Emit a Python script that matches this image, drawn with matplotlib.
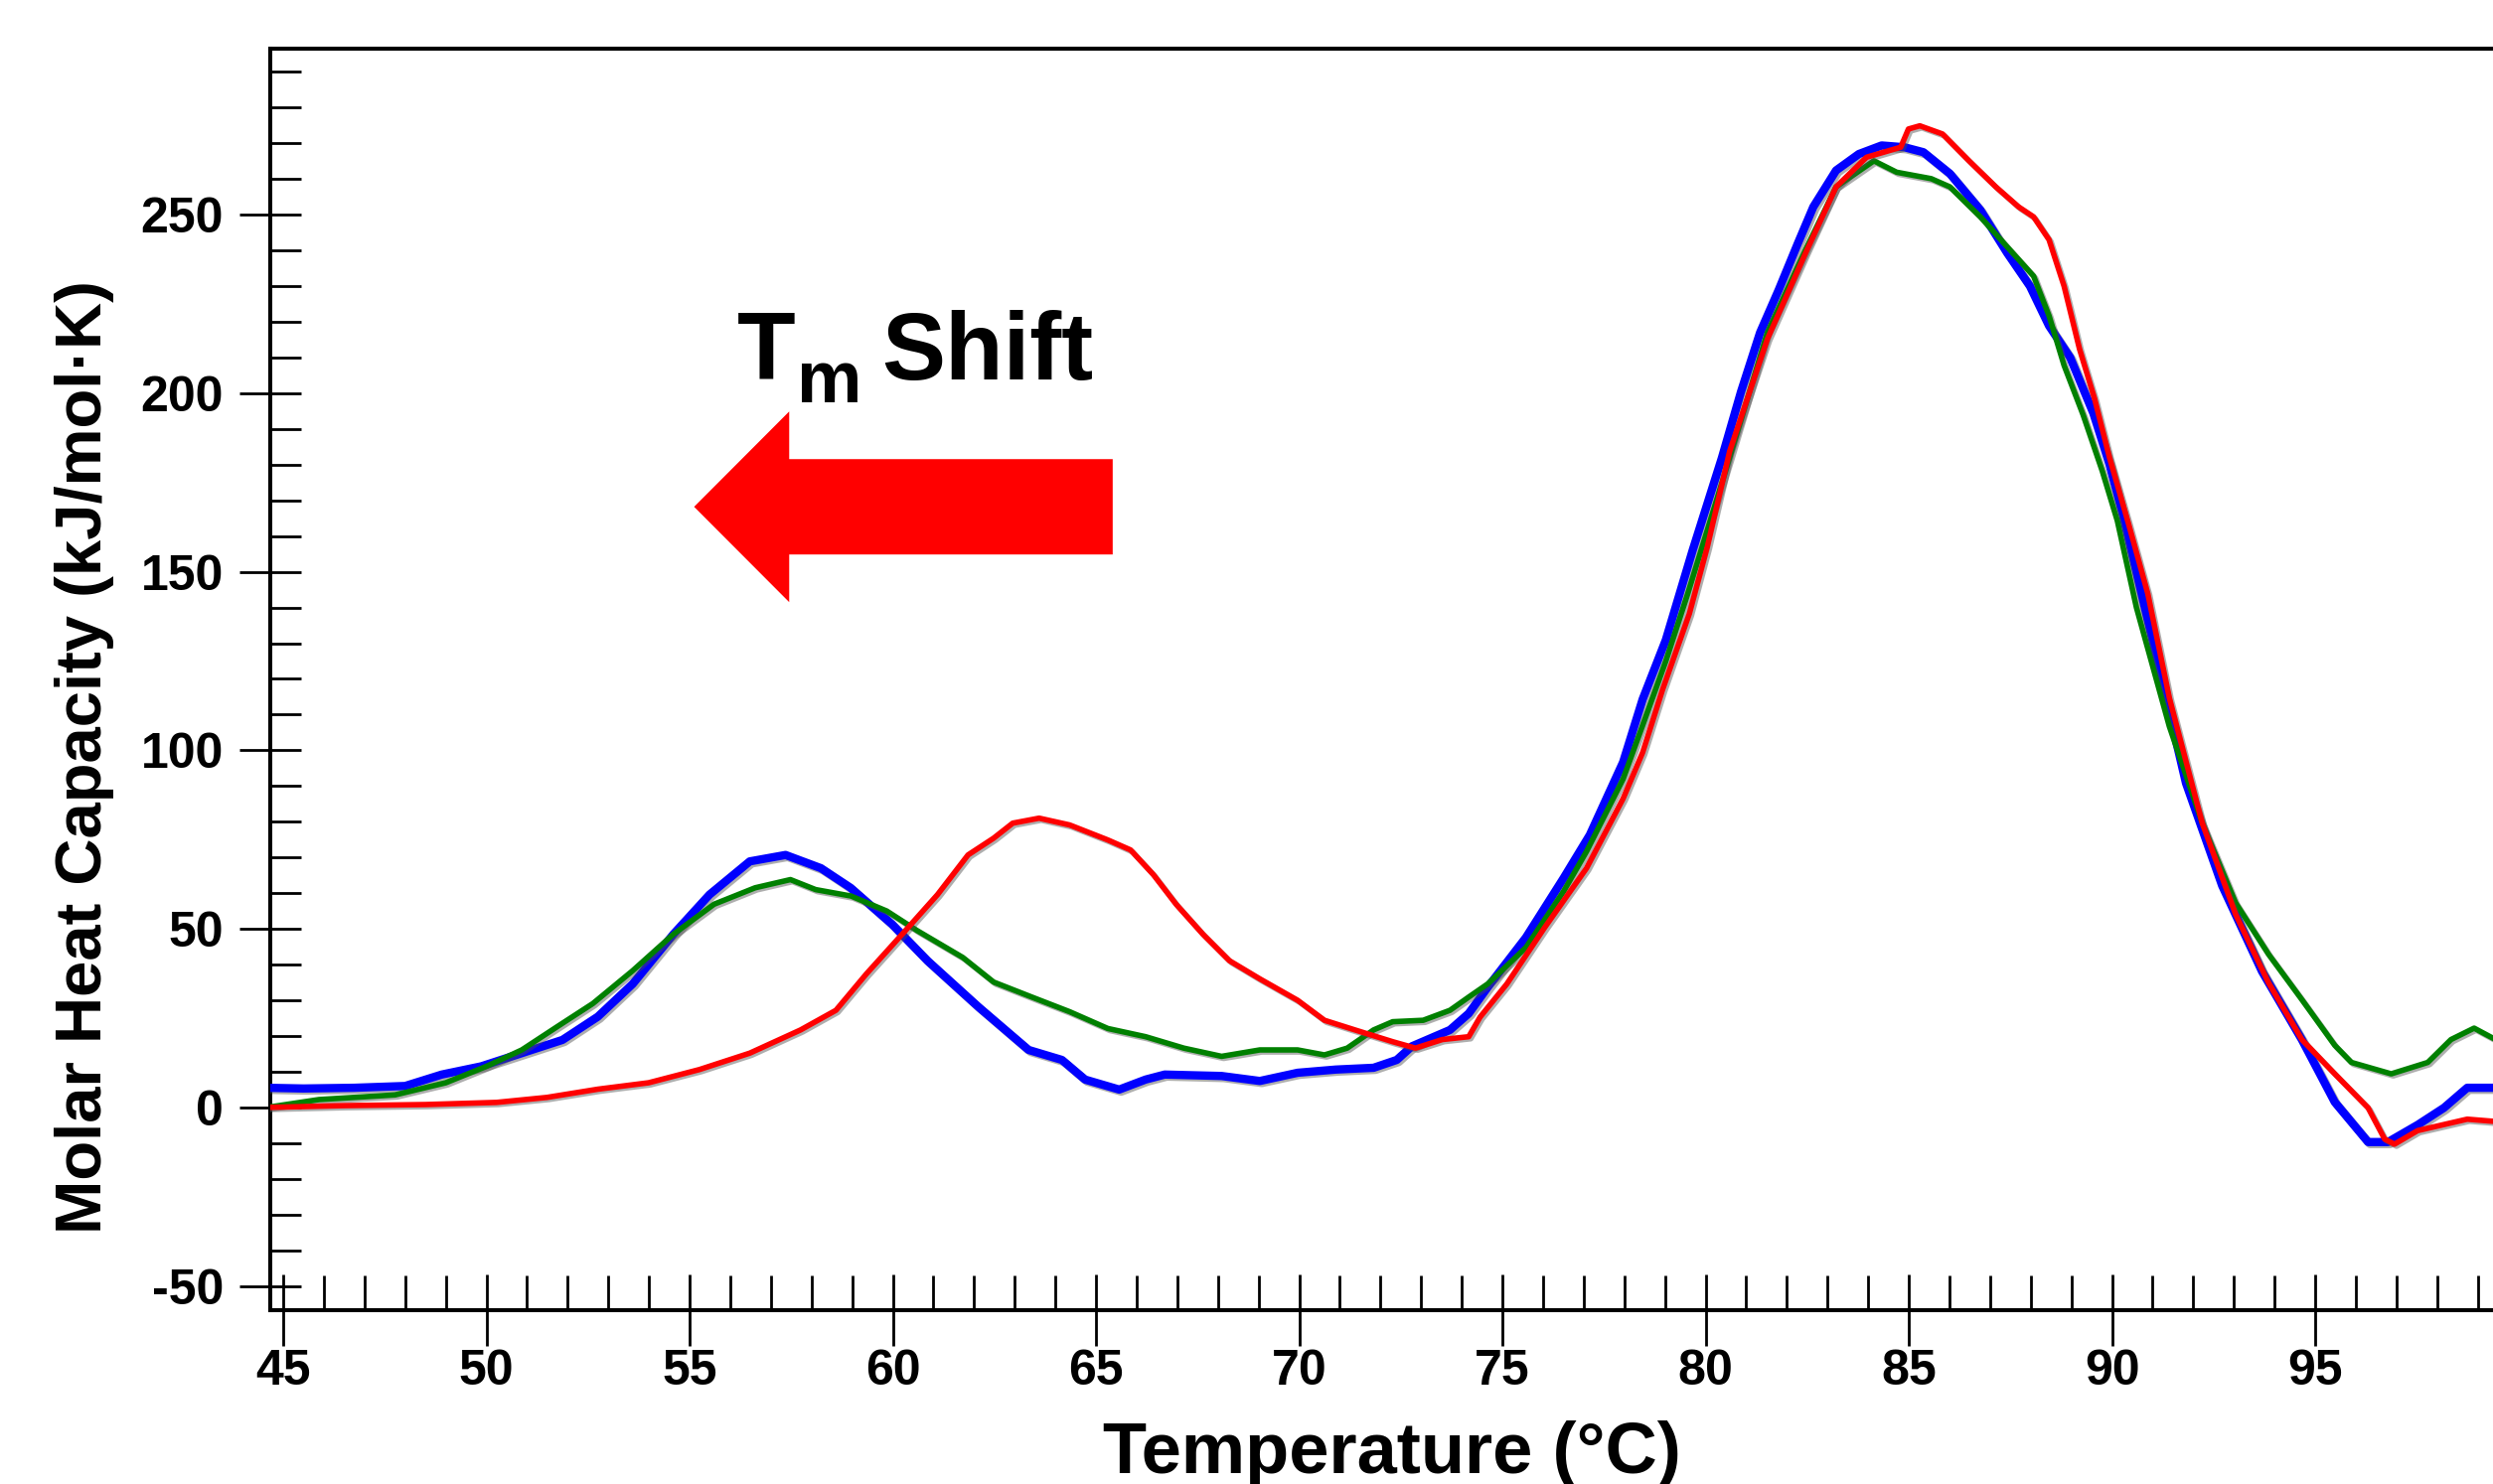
import matplotlib
matplotlib.use('Agg')
import matplotlib.pyplot as plt
import matplotlib.patheffects as pe
from matplotlib.patches import FancyArrow
from matplotlib.ticker import MultipleLocator, FixedLocator

plt.rcParams['font.family'] = ['Liberation Sans', 'DejaVu Sans']
plt.rcParams['font.weight'] = 'bold'
plt.rcParams['axes.unicode_minus'] = False

# temperature (C) / molar heat capacity (kJ/mol.K)
blue_t = [44.6, 45.5, 46.75, 48.0, 48.9, 49.87, 50.87, 51.87, 52.74, 53.6, 54.6, 55.49,
          56.48, 57.36, 58.23, 58.96, 59.98, 60.85, 62.1, 63.34, 64.16, 64.73, 65.57,
          66.22, 66.69, 68.09, 69.03, 69.96, 70.9, 71.83, 72.4, 72.77, 73.71, 74.17,
          74.64, 75.58, 76.51, 77.15, 77.97, 78.45, 79.02, 79.68, 80.4, 80.87, 81.34,
          81.8, 82.27, 82.65, 83.21, 83.77, 84.33, 84.89, 85.36, 86.01, 86.76, 87.42,
          87.98, 88.45, 88.97, 89.54, 89.94, 90.27, 91.0, 91.82, 92.71, 93.69, 94.67,
          95.48, 96.3, 96.79, 97.52, 98.17, 98.74, 99.6]
blue_cp = [5.5, 5.3, 5.5, 6.0, 9.2, 11.5, 15.2, 18.9, 25.4, 34.6, 48.5, 59.6,
           68.9, 70.7, 67.0, 61.5, 51.3, 41.1, 28.2, 16.1, 13.3, 7.8, 5.0,
           7.8, 9.2, 8.8, 7.4, 9.7, 10.6, 11.1, 13.3, 17.1, 21.7, 26.3,
           33.7, 47.6, 64.3, 76.3, 96.7, 114.3, 130.9, 156.0, 181.9, 200.4, 217.0,
           229.0, 242.0, 252.2, 262.4, 267.0, 269.4, 268.9, 267.5, 261.5, 251.3, 239.3,
           230.0, 218.9, 210.0, 194.4, 180.0, 165.7, 130.6, 90.8, 62.1, 38.1, 19.0,
           1.5, -9.7, -9.7, -4.9, -0.1, 5.5, 5.5]

green_t = [44.6, 45.88, 47.75, 49.0, 50.0, 50.87, 51.74, 52.62, 53.6, 54.6, 55.6, 56.61,
           57.48, 58.1, 58.97, 59.85, 60.6, 61.72, 62.48, 63.42, 64.35, 65.29, 66.22,
           67.16, 68.09, 69.03, 69.96, 70.62, 71.18, 71.83, 72.3, 73.05, 73.71, 74.17,
           74.64, 75.58, 76.51, 77.07, 77.97, 78.45, 79.02, 79.56, 80.59, 81.52, 82.46,
           83.21, 84.14, 84.7, 85.55, 86.01, 86.76, 87.42, 88.07, 88.45, 88.82, 89.29,
           89.76, 90.13, 90.6, 91.41, 92.22, 93.04, 93.85, 94.67, 95.48, 95.89, 96.87,
           97.77, 98.34, 98.91, 99.6]
green_cp = [0.0, 2.2, 3.5, 6.9, 11.5, 16.1, 22.6, 29.1, 38.3, 48.5, 56.9, 61.5,
            63.8, 61.0, 59.2, 55.0, 49.5, 42.0, 35.1, 30.9, 26.8, 22.1, 19.8,
            16.6, 14.3, 16.1, 16.1, 14.7, 16.6, 21.7, 24.0, 24.4, 27.2, 30.9,
            34.6, 44.8, 60.6, 71.7, 92.0, 107.0, 125.0, 143.9, 181.9, 217.0, 240.2,
            257.8, 265.1, 261.9, 260.1, 257.8, 249.4, 241.0, 232.8, 221.7, 207.8, 193.9,
            178.2, 164.3, 140.0, 106.7, 79.6, 57.3, 42.9, 30.2, 17.4, 12.6, 9.4,
            12.6, 19.0, 22.2, 18.0]

red_t = [44.6, 46.5, 48.5, 50.25, 51.49, 52.74, 53.99, 55.24, 56.48, 57.73, 58.6, 59.35,
         60.23, 61.1, 61.85, 62.48, 62.95, 63.6, 64.35, 65.29, 65.85, 66.41, 66.97,
         67.63, 68.28, 69.03, 69.96, 70.62, 71.37, 72.3, 72.86, 73.52, 74.17, 74.45,
         75.11, 76.04, 77.07, 77.97, 78.45, 78.94, 79.6, 80.04, 80.59, 81.52, 82.46,
         83.21, 83.96, 84.8, 84.99, 85.27, 85.83, 86.48, 87.14, 87.7, 88.07, 88.45,
         88.82, 89.2, 89.57, 89.94, 90.41, 90.88, 91.41, 92.22, 93.04, 93.85, 94.67,
         95.48, 96.3, 96.71, 96.95, 97.52, 98.74, 99.6]
red_cp = [0.0, 0.5, 0.8, 1.4, 2.8, 5.1, 6.9, 10.6, 15.2, 21.7, 27.2, 37.4,
          48.5, 59.6, 70.7, 75.4, 79.6, 81.0, 79.1, 74.9, 72.1, 65.2, 56.9,
          48.5, 41.1, 36.0, 30.0, 24.4, 21.7, 18.4, 16.6, 19.0, 19.8, 25.3,
          34.6, 50.4, 67.0, 86.5, 99.4, 117.0, 138.3, 156.9, 183.7, 215.2, 239.3,
          257.8, 266.1, 268.9, 274.0, 274.9, 272.6, 265.1, 257.8, 252.2, 249.4, 243.0,
          230.0, 212.4, 198.5, 181.9, 163.3, 143.9, 114.7, 79.6, 54.1, 34.9, 19.0,
          9.4, -0.1, -8.9, -10.3, -6.5, -3.3, -4.1]

x_major = [45, 50, 55, 60, 65, 70, 75, 80, 85, 90, 95]

fig = plt.figure(figsize=(25.09, 14.94), dpi=100)
# the right end of the axes runs past the figure edge, as in the original screenshot
ax = fig.add_axes([0.1084, 0.1171, 0.9018, 0.8501])

shadow = [pe.SimpleLineShadow(offset=(1.5, -1.5), shadow_color='0.3', alpha=0.45), pe.Normal()]
ax.plot(blue_t, blue_cp, color='#0000ff', lw=6.0, path_effects=shadow, zorder=3)
ax.plot(green_t, green_cp, color='#008000', lw=4.0, path_effects=shadow, zorder=4)
ax.plot(red_t, red_cp, color='#ff0000', lw=4.0, path_effects=shadow, zorder=5)

ax.set_xlim(44.68, 100)
ax.set_ylim(-56.8, 296.5)

ax.xaxis.set_major_locator(FixedLocator(x_major))
ax.xaxis.set_minor_locator(MultipleLocator(1))
ax.yaxis.set_major_locator(MultipleLocator(50))
ax.yaxis.set_minor_locator(MultipleLocator(10))
ax.tick_params(axis='x', which='major', direction='inout', length=52, width=2, pad=2,
               labelsize=36)
ax.tick_params(axis='x', which='minor', direction='in', length=25, width=2)
ax.tick_params(axis='y', which='major', direction='inout', length=44, width=2, pad=12,
               labelsize=36)
ax.tick_params(axis='y', which='minor', direction='in', length=22, width=2)
for lab in ax.get_xticklabels() + ax.get_yticklabels():
    lab.set_fontweight('bold')
for s in ax.spines.values():
    s.set_linewidth(2.9)

fig.text(0.5582, 0.0074, 'Temperature (°C)', ha='center', va='baseline',
         fontsize=52, fontweight='bold')
fig.text(0.0339, 0.49, 'Molar Heat Capacity (kJ/mol·K)', ha='center', va='center',
         rotation=90, fontsize=47, fontweight='bold')

# "Tm Shift" label and the red arrow
ax.text(56.16, 203.9, 'T', fontsize=69, fontweight='bold', ha='left', va='baseline')
ax.text(57.65, 197.4, 'm', fontsize=53, fontweight='bold', ha='left', va='baseline')
ax.text(59.72, 203.9, 'Shift', fontsize=69, fontweight='bold', ha='left', va='baseline')
ax.add_patch(FancyArrow(65.41, 168.2, 55.11 - 65.41, 0, width=26.7,
                        head_width=53.4, head_length=57.45 - 55.11,
                        length_includes_head=True, color='#ff0000', lw=0, zorder=6))

fig.savefig('out.png', dpi=100)
